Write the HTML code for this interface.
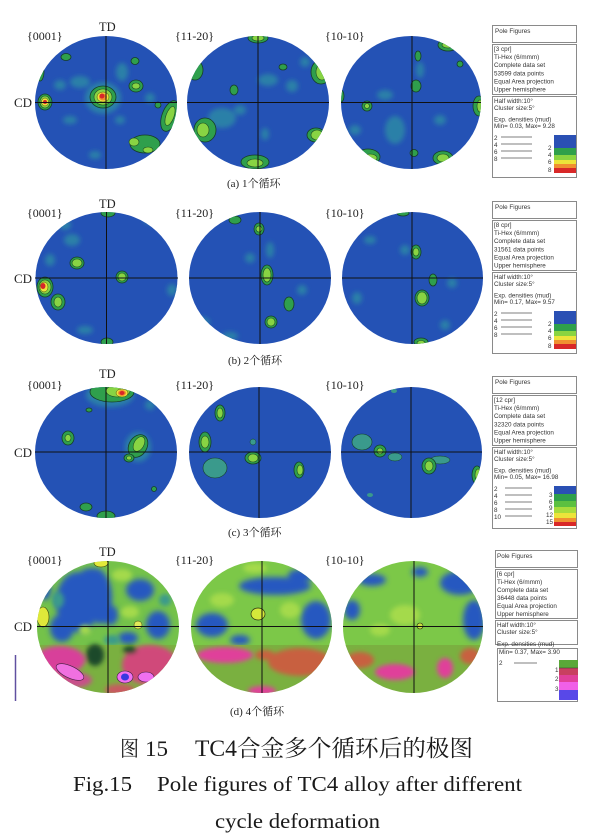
<!DOCTYPE html>
<html><head><meta charset="utf-8"><style>
html,body{margin:0;padding:0;background:#fff;}
svg{display:block}
.g1{fill:#2f9f4c;stroke:#163d28;stroke-width:.8}
.g2{fill:#88d443;stroke:#1d4a22;stroke-width:.6}
.y{fill:#ece43a;stroke:#4a4a10;stroke-width:.5}
.o{fill:#f08c2c}
.r{fill:#d8262a}
.f{fill:#2c80a8}
.t{fill:#3a9a8c}
.lt{font-family:"Liberation Sans",sans-serif;font-size:6.3px;fill:#333}
.sr{font-family:"Liberation Serif",serif;fill:#222}
.cap{font-family:"Liberation Serif","Noto Serif CJK SC",serif;font-size:11px;fill:#222}
.bx{fill:#fff;stroke:#8a8a8a;stroke-width:1}
.ln{stroke:#555;stroke-width:.7}
.ax{stroke:#111;stroke-width:1}
</style></head><body>
<svg width="605" height="838" viewBox="0 0 605 838" xmlns="http://www.w3.org/2000/svg">
<defs>
<filter id="bl" x="-50%" y="-50%" width="200%" height="200%"><feGaussianBlur stdDeviation="2.5"/></filter>
<filter id="bl2" x="-50%" y="-50%" width="200%" height="200%"><feGaussianBlur stdDeviation="3"/></filter>
<clipPath id="c11"><ellipse cx="106" cy="102.5" rx="71" ry="66.5"/></clipPath>
<clipPath id="c12"><ellipse cx="258" cy="102.5" rx="71" ry="66.5"/></clipPath>
<clipPath id="c13"><ellipse cx="411" cy="102.5" rx="70" ry="66.5"/></clipPath>
<clipPath id="c21"><ellipse cx="106.5" cy="278" rx="71" ry="66"/></clipPath>
<clipPath id="c22"><ellipse cx="260" cy="278" rx="71" ry="66"/></clipPath>
<clipPath id="c23"><ellipse cx="412.5" cy="278" rx="70.5" ry="66"/></clipPath>
<clipPath id="c31"><ellipse cx="106" cy="452.5" rx="71" ry="65.5"/></clipPath>
<clipPath id="c32"><ellipse cx="260" cy="452.5" rx="71" ry="65.5"/></clipPath>
<clipPath id="c33"><ellipse cx="411.5" cy="452.5" rx="70.5" ry="65.5"/></clipPath>
<clipPath id="c41"><ellipse cx="108" cy="627" rx="71" ry="66"/></clipPath>
<clipPath id="c42"><ellipse cx="261.5" cy="627" rx="70.5" ry="66"/></clipPath>
<clipPath id="c43"><ellipse cx="413" cy="627" rx="70" ry="66"/></clipPath>
</defs>

<!-- ================= ROW 1 ================= -->
<g clip-path="url(#c11)">
<rect x="30" y="30" width="155" height="145" fill="#2452b5"/>
<g filter="url(#bl)" class="f">
<ellipse cx="80" cy="82" rx="10" ry="6"/><ellipse cx="122" cy="72" rx="6" ry="9"/><ellipse cx="70" cy="120" rx="7" ry="4"/>
<ellipse cx="150" cy="98" rx="5" ry="5"/><ellipse cx="95" cy="155" rx="6" ry="4"/><ellipse cx="120" cy="120" rx="5" ry="4"/>
<ellipse cx="60" cy="85" rx="6" ry="5"/><ellipse cx="103" cy="98" rx="18" ry="16"/>
</g>
<ellipse cx="103" cy="97" rx="13" ry="11" class="g1"/><ellipse cx="103" cy="97" rx="9" ry="8" class="g2"/>
<ellipse cx="103" cy="97" rx="6" ry="5" class="y"/><ellipse cx="103" cy="97" rx="4" ry="3.5" class="o"/><ellipse cx="102" cy="96" rx="2.5" ry="2.5" class="r"/>
<ellipse cx="45" cy="102" rx="7" ry="8" class="g1"/><ellipse cx="45" cy="102" rx="5" ry="6" class="g2"/><ellipse cx="45" cy="102" rx="3.5" ry="4" class="y"/><ellipse cx="45" cy="102" rx="2" ry="2" class="r"/>
<ellipse cx="136" cy="86" rx="7" ry="6" class="g1"/><ellipse cx="136" cy="86" rx="4" ry="3" class="g2"/>
<ellipse cx="135" cy="61" rx="4" ry="3.5" class="g1"/>
<ellipse cx="66" cy="57" rx="5" ry="3.5" class="g1"/>
<ellipse cx="145" cy="144" rx="15" ry="9" class="g1"/><ellipse cx="134" cy="142" rx="5" ry="4" class="g2"/><ellipse cx="148" cy="150" rx="5" ry="3" class="g2"/>
<ellipse cx="170" cy="116" rx="8" ry="16" class="g1" transform="rotate(20 170 116)"/><ellipse cx="170" cy="116" rx="4" ry="10" class="g2" transform="rotate(20 170 116)"/>
<ellipse cx="158" cy="105" rx="3" ry="3" class="g1"/>
<ellipse cx="40" cy="72" rx="4" ry="9" class="g1"/>
</g>
<g clip-path="url(#c12)">
<rect x="180" y="30" width="160" height="145" fill="#2452b5"/>
<g filter="url(#bl)" class="f">
<ellipse cx="222" cy="118" rx="14" ry="10"/><ellipse cx="268" cy="80" rx="10" ry="6"/><ellipse cx="292" cy="86" rx="6" ry="6"/>
<ellipse cx="265" cy="134" rx="4" ry="6"/><ellipse cx="305" cy="62" rx="5" ry="5"/><ellipse cx="240" cy="110" rx="6" ry="5"/>
</g>
<ellipse cx="258" cy="38" rx="10" ry="5" class="g1"/><ellipse cx="258" cy="38" rx="6" ry="3" class="g2"/>
<ellipse cx="195" cy="70" rx="8" ry="10" class="g1"/>
<ellipse cx="321" cy="72" rx="10" ry="12" class="g1"/><ellipse cx="322" cy="72" rx="6" ry="8" class="g2"/>
<ellipse cx="283" cy="67" rx="4" ry="3" class="g1"/>
<ellipse cx="234" cy="90" rx="4" ry="5" class="g1"/>
<ellipse cx="205" cy="130" rx="11" ry="12" class="g1"/><ellipse cx="203" cy="130" rx="6" ry="7" class="g2"/>
<ellipse cx="255" cy="162" rx="14" ry="7" class="g1"/><ellipse cx="255" cy="163" rx="8" ry="4" class="g2"/>
<ellipse cx="316" cy="135" rx="9" ry="7" class="g1"/><ellipse cx="317" cy="135" rx="6" ry="5" class="g2"/>
</g>
<g clip-path="url(#c13)">
<rect x="335" y="30" width="155" height="145" fill="#2452b5"/>
<g filter="url(#bl)" class="f">
<ellipse cx="395" cy="130" rx="10" ry="14"/><ellipse cx="385" cy="95" rx="8" ry="5"/><ellipse cx="440" cy="120" rx="6" ry="5"/>
<ellipse cx="420" cy="70" rx="4" ry="8"/><ellipse cx="355" cy="130" rx="6" ry="5"/>
</g>
<ellipse cx="367" cy="106" rx="5" ry="5" class="g1"/><ellipse cx="367" cy="106" rx="2.5" ry="2.5" class="g2"/>
<ellipse cx="416" cy="86" rx="5" ry="6" class="g1"/>
<ellipse cx="418" cy="56" rx="3" ry="5" class="g1"/>
<ellipse cx="448" cy="45" rx="10" ry="6" class="g1"/><ellipse cx="448" cy="45" rx="6" ry="3" class="g2"/>
<ellipse cx="460" cy="64" rx="3" ry="3" class="g1"/>
<ellipse cx="479" cy="106" rx="6" ry="10" class="g1"/><ellipse cx="480" cy="106" rx="3" ry="6" class="g2"/>
<ellipse cx="443" cy="158" rx="10" ry="7" class="g1"/><ellipse cx="443" cy="158" rx="6" ry="4" class="g2"/>
<ellipse cx="368" cy="157" rx="12" ry="8" class="g1"/><ellipse cx="370" cy="158" rx="7" ry="4" class="g2"/>
<ellipse cx="414" cy="153" rx="4" ry="3.5" class="g1"/>
<ellipse cx="341" cy="96" rx="3" ry="6" class="g1"/>
<ellipse cx="366" cy="42" rx="6" ry="4" class="g1"/>
</g>
<g class="ax">
<line x1="35" y1="102.5" x2="177" y2="102.5"/><line x1="106" y1="36" x2="106" y2="169"/>
<line x1="187" y1="102.5" x2="329" y2="102.5"/><line x1="258" y1="36" x2="258" y2="169"/>
<line x1="341" y1="102.5" x2="481" y2="102.5"/><line x1="412" y1="36" x2="412" y2="169"/>
</g>
<text x="27" y="40" class="sr" font-size="12">{0001}</text>
<text x="99" y="31" class="sr" font-size="12.5">TD</text>
<text x="14" y="107" class="sr" font-size="13">CD</text>
<text x="175" y="40" class="sr" font-size="12">{11-20}</text>
<text x="325" y="40" class="sr" font-size="12">{10-10}</text>
<text x="227" y="187" class="cap">(a) 1个循环</text>

<!-- ================= ROW 2 ================= -->
<g clip-path="url(#c21)">
<rect x="30" y="205" width="155" height="145" fill="#2452b5"/>
<g filter="url(#bl)" class="f">
<ellipse cx="72" cy="240" rx="8" ry="6"/><ellipse cx="65" cy="225" rx="6" ry="5"/><ellipse cx="150" cy="220" rx="6" ry="4"/>
<ellipse cx="172" cy="290" rx="5" ry="6"/><ellipse cx="85" cy="330" rx="8" ry="4"/><ellipse cx="50" cy="260" rx="5" ry="6"/>
</g>
<ellipse cx="45" cy="287" rx="8" ry="10" class="g1"/><ellipse cx="45" cy="287" rx="6" ry="7" class="g2"/><ellipse cx="44" cy="287" rx="4" ry="5" class="y"/><ellipse cx="43" cy="286" rx="2.5" ry="3" class="r"/>
<ellipse cx="58" cy="302" rx="7" ry="8" class="g1"/><ellipse cx="58" cy="302" rx="4" ry="5" class="g2"/>
<ellipse cx="77" cy="263" rx="7" ry="6" class="g1"/><ellipse cx="77" cy="263" rx="5" ry="4" class="g2"/>
<ellipse cx="122" cy="277" rx="6" ry="6" class="g1"/><ellipse cx="122" cy="277" rx="4" ry="4" class="g2"/>
<ellipse cx="108" cy="213" rx="7" ry="4" class="g1"/>
<ellipse cx="107" cy="342" rx="6" ry="4" class="g1"/>
</g>
<g clip-path="url(#c22)">
<rect x="185" y="205" width="155" height="145" fill="#2452b5"/>
<g filter="url(#bl)" class="f">
<ellipse cx="200" cy="322" rx="10" ry="5"/><ellipse cx="230" cy="336" rx="8" ry="4"/><ellipse cx="250" cy="258" rx="5" ry="5"/>
<ellipse cx="302" cy="290" rx="5" ry="5"/><ellipse cx="270" cy="250" rx="4" ry="8"/>
</g>
<ellipse cx="267" cy="275" rx="6" ry="10" class="g1"/><ellipse cx="267" cy="275" rx="4" ry="7" class="g2"/>
<ellipse cx="259" cy="229" rx="5" ry="6" class="g1"/><ellipse cx="259" cy="229" rx="3" ry="3" class="g2"/>
<ellipse cx="235" cy="220" rx="6" ry="4" class="g1"/>
<ellipse cx="289" cy="304" rx="5" ry="7" class="g1"/>
<ellipse cx="271" cy="322" rx="6" ry="6" class="g1"/><ellipse cx="271" cy="322" rx="4" ry="4" class="g2"/>
</g>
<g clip-path="url(#c23)">
<rect x="338" y="205" width="155" height="145" fill="#2452b5"/>
<g filter="url(#bl)" class="f">
<ellipse cx="452" cy="283" rx="5" ry="5"/><ellipse cx="445" cy="325" rx="5" ry="5"/><ellipse cx="357" cy="298" rx="5" ry="6"/>
<ellipse cx="370" cy="240" rx="6" ry="4"/><ellipse cx="405" cy="250" rx="5" ry="5"/>
</g>
<ellipse cx="416" cy="252" rx="5" ry="7" class="g1"/><ellipse cx="416" cy="252" rx="3" ry="4" class="g2"/>
<ellipse cx="422" cy="298" rx="7" ry="8" class="g1"/><ellipse cx="422" cy="298" rx="5" ry="6" class="g2"/>
<ellipse cx="433" cy="280" rx="4" ry="6" class="g1"/>
<ellipse cx="421" cy="342" rx="7" ry="4" class="g1"/><ellipse cx="421" cy="343" rx="4" ry="2.5" class="g2"/>
<ellipse cx="403" cy="213" rx="6" ry="3" class="g1"/>
</g>
<g class="ax">
<line x1="35" y1="278" x2="178" y2="278"/><line x1="106.5" y1="212" x2="106.5" y2="344"/>
<line x1="189" y1="278" x2="331" y2="278"/><line x1="260" y1="212" x2="260" y2="344"/>
<line x1="342" y1="278" x2="483" y2="278"/><line x1="412" y1="212" x2="412" y2="344"/>
</g>
<text x="27" y="217" class="sr" font-size="12">{0001}</text>
<text x="99" y="208" class="sr" font-size="12.5">TD</text>
<text x="14" y="283" class="sr" font-size="13">CD</text>
<text x="175" y="217" class="sr" font-size="12">{11-20}</text>
<text x="325" y="217" class="sr" font-size="12">{10-10}</text>
<text x="228" y="364" class="cap">(b) 2个循环</text>

<!-- ================= ROW 3 ================= -->
<g clip-path="url(#c31)">
<rect x="30" y="380" width="155" height="145" fill="#2452b5"/>
<g filter="url(#bl)" class="f">
<ellipse cx="150" cy="405" rx="5" ry="5"/><ellipse cx="110" cy="395" rx="24" ry="12"/><ellipse cx="138" cy="447" rx="13" ry="15"/>
</g>
<ellipse cx="112" cy="392" rx="22" ry="10" class="g1"/><ellipse cx="118" cy="391" rx="12" ry="6" class="g2"/>
<ellipse cx="122" cy="393" rx="6" ry="4" class="y"/><ellipse cx="122" cy="393" rx="4" ry="3" class="o"/><ellipse cx="122" cy="393" rx="2.5" ry="2" class="r"/>
<ellipse cx="68" cy="438" rx="6" ry="7" class="g1"/><ellipse cx="68" cy="438" rx="3" ry="3.5" class="g2"/>
<ellipse cx="138" cy="446" rx="9" ry="12" class="g1" transform="rotate(30 138 446)"/><ellipse cx="139" cy="444" rx="5" ry="8" class="g2" transform="rotate(30 139 444)"/>
<ellipse cx="129" cy="458" rx="5" ry="4" class="g1"/><ellipse cx="129" cy="458" rx="2.5" ry="2" class="g2"/>
<ellipse cx="86" cy="507" rx="6" ry="4" class="g1"/>
<ellipse cx="106" cy="516" rx="9" ry="5" class="g1"/>
<ellipse cx="89" cy="410" rx="3" ry="2" class="g1"/>
<ellipse cx="154" cy="489" rx="2.5" ry="2.5" class="g1"/>
</g>
<g clip-path="url(#c32)">
<rect x="185" y="380" width="155" height="145" fill="#2452b5"/>
<ellipse cx="215" cy="468" rx="12" ry="10" class="t" stroke="#163d28" stroke-width=".6"/>
<ellipse cx="205" cy="442" rx="6" ry="10" class="g1"/><ellipse cx="205" cy="442" rx="4" ry="6" class="g2"/>
<ellipse cx="220" cy="413" rx="5" ry="8" class="g1"/><ellipse cx="220" cy="413" rx="3" ry="5" class="g2"/>
<ellipse cx="253" cy="442" rx="3" ry="3" class="t" stroke="#163d28" stroke-width=".5"/>
<ellipse cx="253" cy="458" rx="8" ry="6" class="g1"/><ellipse cx="253" cy="458" rx="5" ry="4" class="g2"/>
<ellipse cx="299" cy="470" rx="5" ry="8" class="g1"/><ellipse cx="300" cy="470" rx="3" ry="5" class="g2"/>
</g>
<g clip-path="url(#c33)">
<rect x="338" y="380" width="155" height="145" fill="#2452b5"/>
<ellipse cx="362" cy="442" rx="10" ry="8" class="t" stroke="#163d28" stroke-width=".6"/>
<ellipse cx="395" cy="457" rx="7" ry="4" class="t" stroke="#163d28" stroke-width=".5"/>
<ellipse cx="440" cy="460" rx="10" ry="4" class="t" stroke="#163d28" stroke-width=".5"/>
<ellipse cx="380" cy="451" rx="6" ry="6" class="g1"/><ellipse cx="380" cy="451" rx="3" ry="3" class="g2"/>
<ellipse cx="429" cy="466" rx="7" ry="8" class="g1"/><ellipse cx="429" cy="466" rx="4" ry="5" class="g2"/>
<ellipse cx="477" cy="475" rx="5" ry="9" class="g1"/><ellipse cx="478" cy="475" rx="3" ry="6" class="g2"/>
<ellipse cx="394" cy="391" rx="3" ry="2" class="t"/>
<ellipse cx="370" cy="495" rx="3" ry="2" class="t"/>
</g>
<g class="ax">
<line x1="35" y1="452" x2="177" y2="452"/><line x1="106" y1="387" x2="106" y2="518"/>
<line x1="189" y1="452" x2="331" y2="452"/><line x1="259" y1="387" x2="259" y2="518"/>
<line x1="341" y1="452" x2="482" y2="452"/><line x1="411" y1="387" x2="411" y2="518"/>
</g>
<text x="27" y="389" class="sr" font-size="12">{0001}</text>
<text x="99" y="378" class="sr" font-size="12.5">TD</text>
<text x="14" y="457" class="sr" font-size="13">CD</text>
<text x="175" y="389" class="sr" font-size="12">{11-20}</text>
<text x="325" y="389" class="sr" font-size="12">{10-10}</text>
<text x="228" y="536" class="cap">(c) 3个循环</text>

<!-- ================= ROW 4 ================= -->
<g clip-path="url(#c41)">
<rect x="30" y="555" width="160" height="95" fill="#74c24a"/>
<g filter="url(#bl2)" fill="#2658c0">
<ellipse cx="78" cy="602" rx="22" ry="30"/><ellipse cx="100" cy="598" rx="12" ry="26"/><ellipse cx="62" cy="628" rx="12" ry="14"/>
<ellipse cx="140" cy="590" rx="14" ry="11"/><ellipse cx="158" cy="625" rx="12" ry="14"/><ellipse cx="92" cy="574" rx="12" ry="6"/>
<ellipse cx="128" cy="638" rx="10" ry="6"/><ellipse cx="45" cy="590" rx="6" ry="10"/><ellipse cx="110" cy="615" rx="8" ry="10"/>
</g>
<g filter="url(#bl)" fill="#3a9a8c">
<ellipse cx="58" cy="600" rx="6" ry="8"/><ellipse cx="165" cy="600" rx="6" ry="6"/><ellipse cx="112" cy="640" rx="8" ry="5"/>
</g>
<g filter="url(#bl)" fill="#a4da4c">
<ellipse cx="122" cy="575" rx="10" ry="6"/><ellipse cx="130" cy="612" rx="9" ry="6"/><ellipse cx="85" cy="630" rx="6" ry="5"/>
</g>
<ellipse cx="43" cy="617" rx="6" ry="10" fill="#dfe83a" stroke="#3a4010" stroke-width=".6"/>
<ellipse cx="101" cy="563" rx="7" ry="4" fill="#e2ea3a" stroke="#3a4010" stroke-width=".6"/>
<ellipse cx="138" cy="625" rx="4" ry="4" fill="#e2ea5a" stroke="#3a4010" stroke-width=".5"/>
<rect x="30" y="645" width="160" height="55" fill="#7ab040"/>
<g filter="url(#bl)">
<ellipse cx="60" cy="660" rx="25" ry="14" fill="#d8409a"/><ellipse cx="72" cy="680" rx="20" ry="8" fill="#c8508a"/>
<ellipse cx="150" cy="665" rx="28" ry="20" fill="#d04a7a"/><ellipse cx="120" cy="690" rx="15" ry="6" fill="#c85a60"/>
<ellipse cx="95" cy="655" rx="9" ry="11" fill="#1e4a2a"/><ellipse cx="130" cy="650" rx="7" ry="4" fill="#1e4a2a"/>
</g>
<ellipse cx="70" cy="672" rx="15" ry="6" fill="#f070e0" stroke="#402040" stroke-width=".6" transform="rotate(25 70 672)"/>
<ellipse cx="125" cy="677" rx="8" ry="6" fill="#f070f0" stroke="#402040" stroke-width=".6"/>
<ellipse cx="125" cy="677" rx="4" ry="3.5" fill="#3838e0"/>
<ellipse cx="146" cy="677" rx="8" ry="5" fill="#f070f0" stroke="#402040" stroke-width=".6"/>
</g>
<g clip-path="url(#c42)">
<rect x="185" y="555" width="155" height="95" fill="#7cc848"/>
<g filter="url(#bl2)" fill="#2658c0">
<ellipse cx="275" cy="586" rx="36" ry="9"/><ellipse cx="316" cy="620" rx="15" ry="19"/><ellipse cx="212" cy="625" rx="16" ry="12"/>
<ellipse cx="302" cy="575" rx="14" ry="6"/><ellipse cx="240" cy="640" rx="10" ry="5"/>
</g>
<g filter="url(#bl)" fill="#a4da4c">
<ellipse cx="222" cy="600" rx="12" ry="7"/><ellipse cx="290" cy="610" rx="10" ry="8"/><ellipse cx="255" cy="568" rx="12" ry="5"/>
</g>
<ellipse cx="258" cy="614" rx="7" ry="6" fill="#d4e83a" stroke="#2a3010" stroke-width=".7"/>
<rect x="185" y="645" width="155" height="55" fill="#7ab040"/>
<g filter="url(#bl)">
<ellipse cx="225" cy="655" rx="28" ry="8" fill="#e0409a"/><ellipse cx="300" cy="662" rx="32" ry="14" fill="#c86040"/>
<ellipse cx="262" cy="691" rx="14" ry="5" fill="#e0409a"/><ellipse cx="265" cy="655" rx="10" ry="5" fill="#c86040"/>
</g>
</g>
<g clip-path="url(#c43)">
<rect x="338" y="555" width="155" height="95" fill="#7cc848"/>
<g filter="url(#bl2)" fill="#2658c0">
<ellipse cx="460" cy="583" rx="20" ry="12"/><ellipse cx="474" cy="620" rx="11" ry="20"/><ellipse cx="372" cy="580" rx="14" ry="6"/>
<ellipse cx="352" cy="610" rx="8" ry="10"/><ellipse cx="420" cy="572" rx="8" ry="5"/>
</g>
<g filter="url(#bl)" fill="#a4da4c">
<ellipse cx="405" cy="615" rx="15" ry="10"/><ellipse cx="380" cy="630" rx="10" ry="6"/>
</g>
<ellipse cx="420" cy="626" rx="3" ry="3" fill="#c8e040" stroke="#2a3010" stroke-width=".6"/>
<rect x="338" y="645" width="155" height="55" fill="#7ab040"/>
<g filter="url(#bl)">
<ellipse cx="395" cy="672" rx="20" ry="8" fill="#e0409a"/><ellipse cx="445" cy="668" rx="8" ry="10" fill="#e0409a"/>
<ellipse cx="360" cy="660" rx="14" ry="8" fill="#c86040"/><ellipse cx="470" cy="656" rx="10" ry="8" fill="#c86040"/>
</g>
</g>
<g class="ax">
<line x1="37" y1="626.5" x2="179" y2="626.5"/><line x1="108" y1="561" x2="108" y2="693"/>
<line x1="191" y1="626.5" x2="332" y2="626.5"/><line x1="262" y1="561" x2="262" y2="693"/>
<line x1="343" y1="626.5" x2="483" y2="626.5"/><line x1="414" y1="561" x2="414" y2="693"/>
</g>
<line x1="15.5" y1="655" x2="15.5" y2="701" stroke="#6050a0" stroke-width="1.5"/>
<text x="27" y="564" class="sr" font-size="12">{0001}</text>
<text x="99" y="556" class="sr" font-size="12.5">TD</text>
<text x="14" y="631" class="sr" font-size="13">CD</text>
<text x="175" y="564" class="sr" font-size="12">{11-20}</text>
<text x="325" y="564" class="sr" font-size="12">{10-10}</text>
<text x="230" y="715" class="cap">(d) 4个循环</text>

<!-- ================= LEGENDS ================= -->
<g>
<rect x="492.5" y="25.5" width="84" height="17" class="bx"/>
<text x="495" y="33" class="lt">Pole Figures</text>
<rect x="492.5" y="44.5" width="84" height="50" class="bx"/>
<text x="494" y="51" class="lt">[3 cpr]</text><text x="494" y="59" class="lt">Ti-Hex (6/mmm)</text>
<text x="494" y="67" class="lt">Complete data set</text><text x="494" y="75.5" class="lt">53599 data points</text>
<text x="494" y="83.5" class="lt">Equal Area projection</text><text x="494" y="91.5" class="lt">Upper hemisphere</text>
<rect x="492.5" y="96.5" width="84" height="81" class="bx"/>
<text x="494" y="103" class="lt">Half width:10°</text><text x="494" y="110" class="lt">Cluster size:5°</text>
<text x="494" y="121.5" class="lt">Exp. densities (mud)</text><text x="494" y="128" class="lt">Min= 0.03, Max= 9.28</text>
<text x="494" y="140" class="lt">2</text><text x="494" y="147" class="lt">4</text><text x="494" y="154" class="lt">6</text><text x="494" y="161" class="lt">8</text>
<g class="ln"><line x1="501" y1="137" x2="532" y2="137"/><line x1="501" y1="144" x2="532" y2="144"/><line x1="501" y1="151" x2="532" y2="151"/><line x1="501" y1="158" x2="532" y2="158"/></g>
<rect x="554" y="135" width="22" height="13" fill="#2a50b4"/><rect x="554" y="148" width="22" height="7" fill="#2fa04a"/>
<rect x="554" y="155" width="22" height="5" fill="#8ad440"/><rect x="554" y="160" width="22" height="4" fill="#ece43a"/>
<rect x="554" y="164" width="22" height="4" fill="#f09030"/><rect x="554" y="168" width="22" height="5" fill="#d82828"/>
<text x="548" y="150" class="lt">2</text><text x="548" y="157" class="lt">4</text><text x="548" y="164" class="lt">6</text><text x="548" y="172" class="lt">8</text>
</g>
<g transform="translate(0,176)">
<rect x="492.5" y="25.5" width="84" height="17" class="bx"/>
<text x="495" y="33" class="lt">Pole Figures</text>
<rect x="492.5" y="44.5" width="84" height="50" class="bx"/>
<text x="494" y="51" class="lt">[8 cpr]</text><text x="494" y="59" class="lt">Ti-Hex (6/mmm)</text>
<text x="494" y="67" class="lt">Complete data set</text><text x="494" y="75.5" class="lt">31561 data points</text>
<text x="494" y="83.5" class="lt">Equal Area projection</text><text x="494" y="91.5" class="lt">Upper hemisphere</text>
<rect x="492.5" y="96.5" width="84" height="81" class="bx"/>
<text x="494" y="103" class="lt">Half width:10°</text><text x="494" y="110" class="lt">Cluster size:5°</text>
<text x="494" y="121.5" class="lt">Exp. densities (mud)</text><text x="494" y="128" class="lt">Min= 0.17, Max= 9.57</text>
<text x="494" y="140" class="lt">2</text><text x="494" y="147" class="lt">4</text><text x="494" y="154" class="lt">6</text><text x="494" y="161" class="lt">8</text>
<g class="ln"><line x1="501" y1="137" x2="532" y2="137"/><line x1="501" y1="144" x2="532" y2="144"/><line x1="501" y1="151" x2="532" y2="151"/><line x1="501" y1="158" x2="532" y2="158"/></g>
<rect x="554" y="135" width="22" height="13" fill="#2a50b4"/><rect x="554" y="148" width="22" height="7" fill="#2fa04a"/>
<rect x="554" y="155" width="22" height="5" fill="#8ad440"/><rect x="554" y="160" width="22" height="4" fill="#ece43a"/>
<rect x="554" y="164" width="22" height="4" fill="#f09030"/><rect x="554" y="168" width="22" height="5" fill="#d82828"/>
<text x="548" y="150" class="lt">2</text><text x="548" y="157" class="lt">4</text><text x="548" y="164" class="lt">6</text><text x="548" y="172" class="lt">8</text>
</g>
<g transform="translate(0,351)">
<rect x="492.5" y="25.5" width="84" height="17" class="bx"/>
<text x="495" y="33" class="lt">Pole Figures</text>
<rect x="492.5" y="44.5" width="84" height="50" class="bx"/>
<text x="494" y="51" class="lt">[12 cpr]</text><text x="494" y="59" class="lt">Ti-Hex (6/mmm)</text>
<text x="494" y="67" class="lt">Complete data set</text><text x="494" y="75.5" class="lt">32320 data points</text>
<text x="494" y="83.5" class="lt">Equal Area projection</text><text x="494" y="91.5" class="lt">Upper hemisphere</text>
<rect x="492.5" y="96.5" width="84" height="81" class="bx"/>
<text x="494" y="103" class="lt">Half width:10°</text><text x="494" y="110" class="lt">Cluster size:5°</text>
<text x="494" y="121.5" class="lt">Exp. densities (mud)</text><text x="494" y="128" class="lt">Min= 0.05, Max= 16.98</text>
<text x="494" y="140" class="lt">2</text><text x="494" y="147" class="lt">4</text><text x="494" y="154" class="lt">6</text><text x="494" y="161" class="lt">8</text><text x="494" y="168" class="lt">10</text>
<g class="ln"><line x1="505" y1="137" x2="532" y2="137"/><line x1="505" y1="144" x2="532" y2="144"/><line x1="505" y1="151" x2="532" y2="151"/><line x1="505" y1="158" x2="532" y2="158"/><line x1="505" y1="165" x2="532" y2="165"/></g>
<rect x="554" y="135" width="22" height="8" fill="#2a50b4"/><rect x="554" y="143" width="22" height="7" fill="#2fa04a"/>
<rect x="554" y="150" width="22" height="6" fill="#5cc040"/><rect x="554" y="156" width="22" height="6" fill="#a8dc3c"/>
<rect x="554" y="162" width="22" height="5" fill="#ece43a"/><rect x="554" y="167" width="22" height="4" fill="#f09030"/><rect x="554" y="171" width="22" height="4" fill="#d82828"/>
<text x="549" y="146" class="lt">3</text><text x="549" y="153" class="lt">6</text><text x="549" y="159" class="lt">9</text><text x="546" y="166" class="lt">12</text><text x="546" y="173" class="lt">15</text>
</g>
<g>
<rect x="495.5" y="550.5" width="82" height="17" class="bx"/>
<text x="497" y="558" class="lt">Pole Figures</text>
<rect x="495.5" y="569.5" width="82" height="49" class="bx"/>
<text x="497" y="576" class="lt">[6 cpr]</text><text x="497" y="584" class="lt">Ti-Hex (6/mmm)</text>
<text x="497" y="592" class="lt">Complete data set</text><text x="497" y="600" class="lt">36448 data points</text>
<text x="497" y="608" class="lt">Equal Area projection</text><text x="497" y="616" class="lt">Upper hemisphere</text>
<rect x="495.5" y="620.5" width="82" height="24" class="bx"/>
<text x="497" y="627" class="lt">Half width:10°</text><text x="497" y="634" class="lt">Cluster size:5°</text>
<text x="497" y="646" class="lt">Exp. densities (mud)</text>
<rect x="497.5" y="648.5" width="80" height="53" class="bx"/>
<text x="499" y="654" class="lt">Min= 0.37, Max= 3.90</text>
<text x="499" y="665" class="lt">2</text>
<line x1="514" y1="663" x2="537" y2="663" class="ln"/>
<rect x="559" y="660" width="19" height="8" fill="#5aa838"/><rect x="559" y="668" width="19" height="7" fill="#c84060"/>
<rect x="559" y="675" width="19" height="7" fill="#e0409a"/><rect x="559" y="682" width="19" height="8" fill="#f060e8"/>
<rect x="559" y="690" width="19" height="10" fill="#5848e8"/>
<line x1="559" y1="668" x2="578" y2="668" stroke="#333" stroke-width=".6"/>
<text x="555" y="672" class="lt">1</text><text x="555" y="681" class="lt">2</text><text x="555" y="691" class="lt">3</text>
</g>

<!-- ================= CAPTIONS ================= -->
<g font-family="'Liberation Serif','Noto Serif CJK SC',serif" fill="#1a1a1a">
<text x="120" y="756" font-size="21" textLength="19" lengthAdjust="spacingAndGlyphs">图</text>
<text x="145" y="756" font-size="22" textLength="23" lengthAdjust="spacingAndGlyphs">15</text>
<text x="195" y="756" font-size="23" textLength="278" lengthAdjust="spacingAndGlyphs">TC4合金多个循环后的极图</text>
<text x="73" y="791" font-size="21" textLength="59" lengthAdjust="spacingAndGlyphs">Fig.15</text>
<text x="157" y="791" font-size="21" textLength="365" lengthAdjust="spacingAndGlyphs">Pole figures of TC4 alloy after different</text>
<text x="215" y="828" font-size="21" textLength="165" lengthAdjust="spacingAndGlyphs">cycle deformation</text>
</g>
</svg>
</body></html>
